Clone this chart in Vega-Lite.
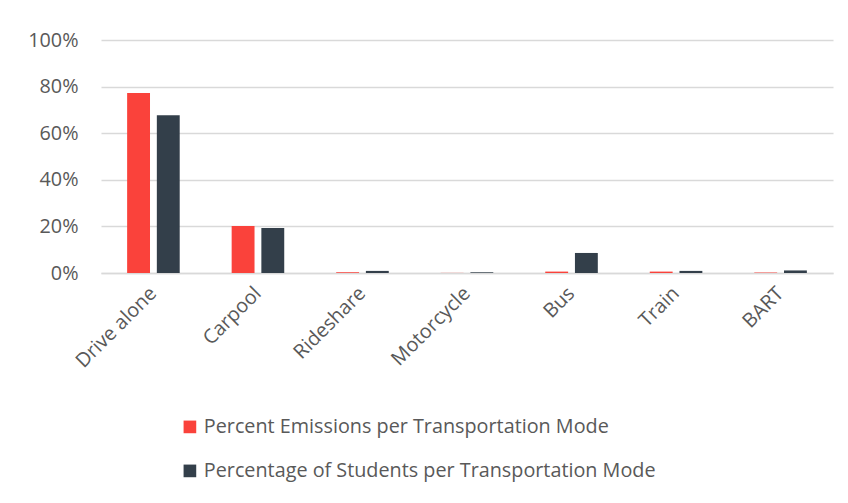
{
  "$schema": "https://vega.github.io/schema/vega-lite/v6.json",
  "autosize": {"type": "none"},
  "width": 732,
  "height": 233,
  "padding": {"left": 101, "top": 40, "right": 15, "bottom": 230},
  "background": "white",
  "config": {
    "view": {"stroke": null},
    "font": "Open Sans",
    "axis": {"labelFont": "Open Sans", "labelColor": "#595959", "labelFontSize": 19.8},
    "legend": {"labelFont": "Open Sans", "labelColor": "#595959", "labelFontSize": 19.8}
  },
  "data": {
    "values": [
      {"mode": "Drive alone", "series": "Percent Emissions per Transportation Mode", "value": 0.773},
      {"mode": "Drive alone", "series": "Percentage of Students per Transportation Mode", "value": 0.677},
      {"mode": "Carpool", "series": "Percent Emissions per Transportation Mode", "value": 0.202},
      {"mode": "Carpool", "series": "Percentage of Students per Transportation Mode", "value": 0.193},
      {"mode": "Rideshare", "series": "Percent Emissions per Transportation Mode", "value": 0.003},
      {"mode": "Rideshare", "series": "Percentage of Students per Transportation Mode", "value": 0.009},
      {"mode": "Motorcycle", "series": "Percent Emissions per Transportation Mode", "value": 0.0005},
      {"mode": "Motorcycle", "series": "Percentage of Students per Transportation Mode", "value": 0.003},
      {"mode": "Bus", "series": "Percent Emissions per Transportation Mode", "value": 0.006},
      {"mode": "Bus", "series": "Percentage of Students per Transportation Mode", "value": 0.086},
      {"mode": "Train", "series": "Percent Emissions per Transportation Mode", "value": 0.006},
      {"mode": "Train", "series": "Percentage of Students per Transportation Mode", "value": 0.009},
      {"mode": "BART", "series": "Percent Emissions per Transportation Mode", "value": 0.002},
      {"mode": "BART", "series": "Percentage of Students per Transportation Mode", "value": 0.011}
    ]
  },
  "mark": {"type": "bar"},
  "encoding": {
    "x": {
      "field": "mode", "type": "nominal", "sort": null,
      "scale": {"paddingInner": 0.497, "paddingOuter": 0.25},
      "axis": {"title": null, "labelAngle": -45, "labelAlign": "right", "labelBaseline": "middle", "labelPadding": 17, "labelOverlap": false, "labelLimit": 0, "ticks": false, "domainColor": "#d9d9d9", "domainWidth": 1.5}
    },
    "xOffset": {"field": "series", "type": "nominal", "scale": {"paddingInner": 0.23}},
    "y": {
      "field": "value", "type": "quantitative",
      "scale": {"domain": [0, 1]},
      "axis": {"title": null, "format": ".0%", "values": [0, 0.2, 0.4, 0.6, 0.8, 1], "labelOverlap": false, "ticks": false, "domain": false, "gridColor": "#d9d9d9", "gridWidth": 1.3, "labelPadding": 23}
    },
    "color": {
      "field": "series", "type": "nominal",
      "scale": {"range": ["#FA423B", "#333F4A"]},
      "legend": {"title": null, "orient": "none", "legendX": 79, "legendY": 377, "direction": "vertical", "symbolType": "square", "symbolSize": 160, "symbolStrokeWidth": 0, "rowPadding": 23, "labelOffset": 4, "labelLimit": 0}
    }
  }
}
